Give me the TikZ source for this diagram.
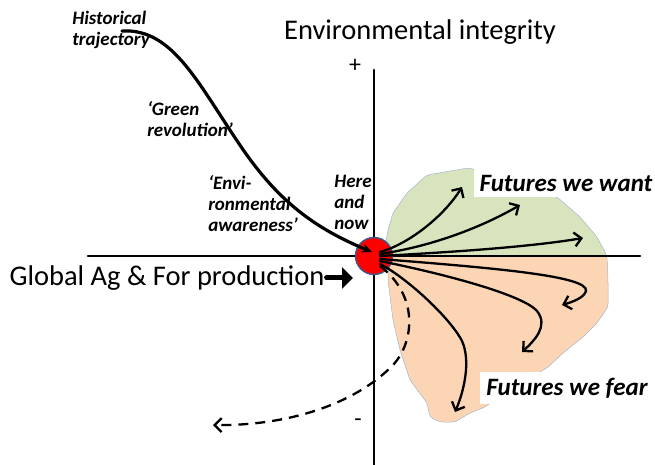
\documentclass[tikz,border=0pt]{standalone}
\usepackage{fontspec}
\setmainfont{Carlito}
\usetikzlibrary{arrows.meta}
\definecolor{wantgreen}{RGB}{215,228,189}
\definecolor{fearorange}{RGB}{252,213,181}
\definecolor{nowedge}{RGB}{56,93,138}
\begin{document}
\begin{tikzpicture}[x=1pt,y=1pt,line join=round,line cap=round,
	fut/.style={line width=2.3,-{Straight Barb[length=7,width=14]}},
	lab/.style={font=\fontsize{19}{21}\selectfont\bfseries\itshape,align=left,inner sep=0pt},
	big/.style={font=\fontsize{28.5}{32}\selectfont,inner sep=0pt},
	region/.style={draw=nowedge!45,line width=.5,rounded corners=3}]
	\useasboundingbox (-374,-209) rectangle (281,256);
	% regions
	\filldraw[region,fill=wantgreen] (14,6) -- (11,9) -- (14,26) -- (19,43) -- (33,63) -- (53,81)
	-- (94,88) -- (126,81) -- (183,59) -- (206,39) -- (223,19) -- (233,0) -- (14,0) -- cycle;
	\filldraw[region,fill=fearorange] (14,-2) -- (14,-24) -- (19,-64) -- (26,-94) -- (36,-124)
	-- (53,-147) -- (56,-161) -- (66,-166) -- (81,-166) -- (96,-157) -- (111,-151) -- (140,-130)
	-- (173,-112) -- (189,-97) -- (209,-81) -- (223,-67) -- (234,-51) -- (234,-24) -- (233,0)
	-- (14,0) -- cycle;
	% axes
	\draw[line width=2.8] (-286,0) -- (266,0);
	\draw[line width=2.8] (0,186) -- (0,-209);
	\node[big] (envint) at (46,224) {Environmental integrity};
	\node[font=\fontsize{24}{28}\selectfont] (plus) at (-19,190) {+};
	\node[font=\fontsize{24}{28}\selectfont] (minus) at (-16,-167) {-};
	% here and now
	\node[circle,fill=red,draw=nowedge,line width=1.4,minimum size=37,inner sep=0] (now) at (0,0) {};
	\node[big] (prod) at (-207,-22) {Global Ag \& For production};
	\coordinate (prodtip) at (-21,-22);
	\draw[line width=5,-{Triangle[length=11,width=21]}] ([xshift=2]prod.east) -- (prodtip);
	% history
	\coordinate (hist) at (-252,225);
	\draw[line width=3.2,-{Stealth[length=10,width=9]}] (hist)
	.. controls (-200,228) and (-175,170) .. (-130,105)
	.. controls (-95,55) and (-60,28) .. ([shift={(-2,4)}]now.center);
	\node[lab] (histlab) at (-263,226) {Historical\\trajectory};
	\node[lab] (green) at (-184,137) {‘Green\\revolution’};
	\node[lab] (aware) at (-121,52) {‘Envi-\\ronmental\\awareness’};
	\node[lab] (here) at (-21,54) {Here\\and\\now};
	% futures
	\coordinate (want1) at (88,69);
	\coordinate (want2) at (146,51);
	\coordinate (want3) at (209,18);
	\coordinate (fear1) at (188,-49);
	\coordinate (fear2) at (148,-96);
	\coordinate (fear3) at (81,-156);
	\coordinate (fear4) at (-161,-169);
	\draw[fut] ([shift={(6,4)}]now.center) .. controls (35,12) and (70,40) .. (want1);
	\draw[fut] ([shift={(6,2)}]now.center) .. controls (60,10) and (110,30) .. (want2);
	\draw[fut] ([shift={(6,0)}]now.center) .. controls (60,3) and (150,8) .. (want3);
	\draw[fut] ([shift={(6,-3)}]now.center) .. controls (120,-12) and (215,-20) .. (212,-35)
	.. controls (210,-42) and (198,-46) .. (fear1);
	\draw[fut] ([shift={(6,-5)}]now.center) .. controls (80,-20) and (150,-40) .. (163,-55)
	.. controls (175,-70) and (160,-85) .. (fear2);
	\draw[fut] ([shift={(6,-8)}]now.center) .. controls (30,-20) and (75,-60) .. (88,-85)
	.. controls (97,-105) and (90,-135) .. (fear3);
	\draw[fut,line cap=butt,dash pattern=on 10 off 7] ([shift={(6,-10)}]now.center) .. controls (45,-40) and (40,-85) .. (20,-108)
	.. controls (-20,-150) and (-90,-170) .. (fear4);
	\node[lab,font=\fontsize{25}{28}\selectfont\bfseries\itshape,fill=white,inner xsep=6,inner ysep=6] (want) at (192,73) {Futures we want};
	\node[lab,font=\fontsize{25}{28}\selectfont\bfseries\itshape,fill=white,inner xsep=6,inner ysep=6] (fear) at (193,-132) {Futures we fear};
\end{tikzpicture}
\end{document}
